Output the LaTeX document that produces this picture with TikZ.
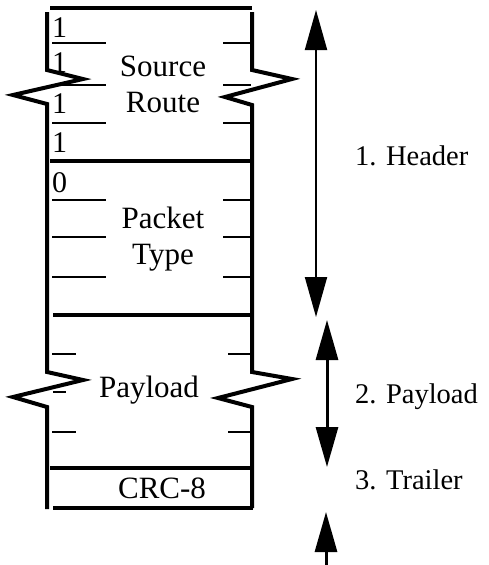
\documentclass[tikz,border=0pt]{standalone}
\usepackage{fontspec}
\setmainfont{Liberation Serif}
\usetikzlibrary{arrows.meta}

\begin{document}
\begin{tikzpicture}[x=1pt, y=-1pt,
  wall/.style={line width=4pt},
  tick/.style={line width=2.5pt},
  field/.style={font=\fontsize{31}{36}\selectfont, align=center, inner sep=0pt},
  bitval/.style={font=\fontsize{30}{36}\selectfont, anchor=base west, inner sep=0pt},
  part/.style={font=\fontsize{28.5}{34}\selectfont, anchor=base west, inner sep=0pt},
  span/.style={line width=2pt, {Triangle[length=40pt,width=22pt]}-{Triangle[length=40pt,width=22pt]}}]
\useasboundingbox (0,0) rectangle (489,565);

% frame lines
\draw[wall] (50,8) -- (252,8);
\draw[wall] (50,161) -- (252,161);
\draw[wall] (53,315) -- (253,315);
\draw[wall] (50,468) -- (253,468);
\draw[wall] (53,508) -- (253,508);
\draw[wall] (47,12) -- (47,70) -- (83,79) -- (13,95) -- (47,104) -- (47,372)
            -- (83,380) -- (13,397) -- (47,407) -- (47,509);
\draw[wall] (252,12) -- (252,70) -- (292,79) -- (225,97) -- (252,105) -- (252,372)
            -- (292,379) -- (218,398) -- (252,407) -- (252,508);

% bit ticks
\foreach \y in {43,85,123,200,237,277} {
  \draw[tick] (52,\y) -- (106,\y);
  \draw[tick] (223,\y) -- (251,\y);
}
\foreach \y in {354,432} {
  \draw[tick] (52,\y) -- (76,\y);
  \draw[tick] (228,\y) -- (251,\y);
}
\draw[tick] (53,392) -- (66,392);

% bit values
\node[bitval] (b1) at (52,37) {1};
\node[bitval] (b2) at (52,72) {1};
\node[bitval] (b3) at (52,113) {1};
\node[bitval] (b4) at (52,152) {1};
\node[bitval] (b5) at (52,192) {0};

% fields
\node[field] (route) at (163,84.5) {Source\\Route};
\node[field] (ptype) at (163,239.5) {Packet\\Type};
\node[field, anchor=base] (payload) at (149,397) {Payload};
\node[field, anchor=base] (crc) at (162,498) {CRC-8};

% parts
\node[part] (header) at (355,165) {1. Header};
\node[part] (pload) at (355,403) {2. Payload};
\node[part] (trailer) at (355,489) {3. Trailer};

\coordinate (h1) at (316,10);
\coordinate (h2) at (316,317);
\coordinate (p1) at (327,320);
\coordinate (p2) at (327,467);
\coordinate (t1) at (326,512);
\coordinate (t2) at (326,565);
\draw[span] (h1) -- (h2);
\draw[span, line width=3pt] (p1) -- (p2);
\draw[line width=3pt, -{Triangle[length=40pt,width=22pt]}] (t2) -- (t1);
\end{tikzpicture}
\end{document}
